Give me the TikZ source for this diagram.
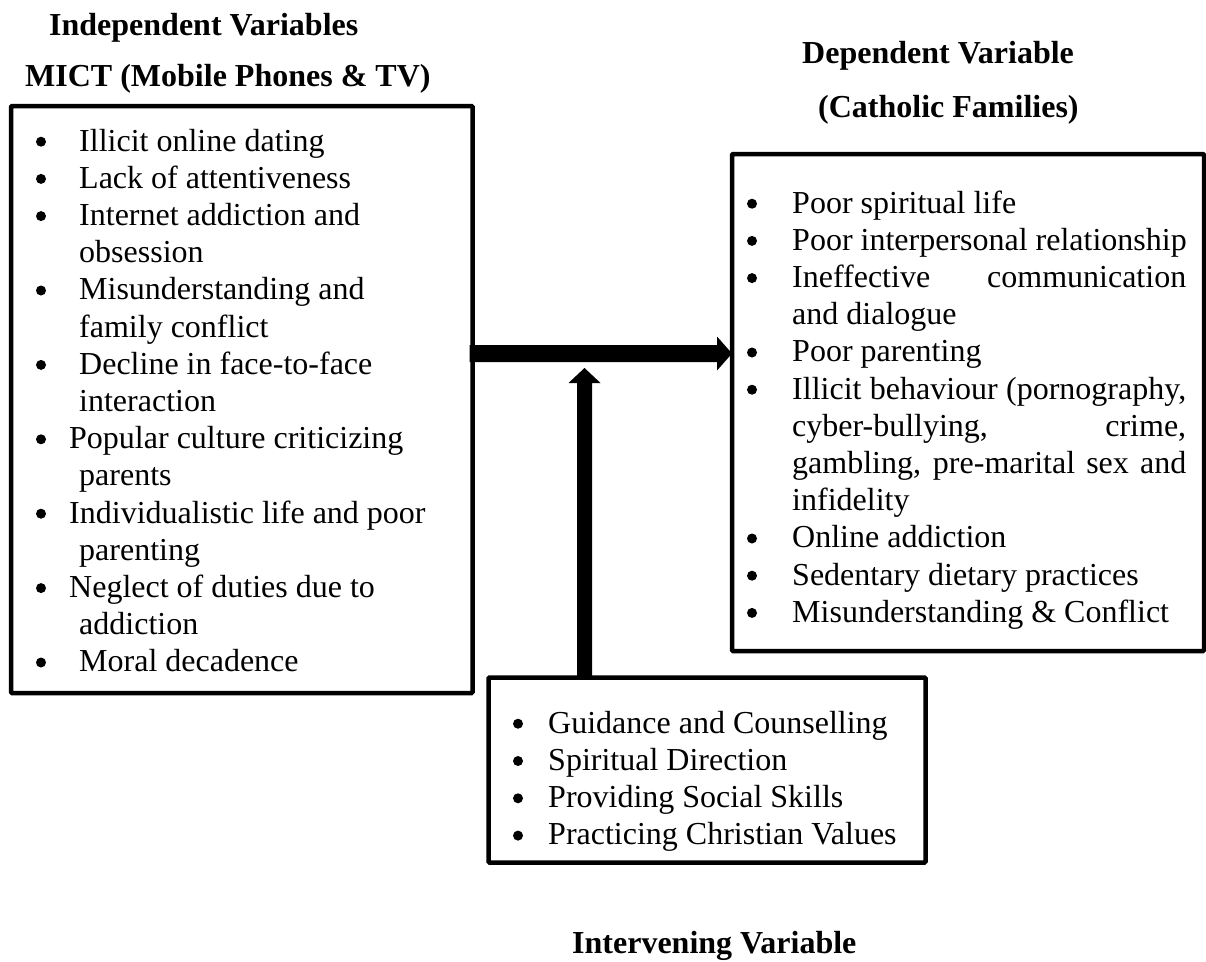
\documentclass[tikz,border=0pt]{standalone}
\usepackage{fontspec}
\setmainfont{Liberation Serif}
\usetikzlibrary{calc}
\begin{document}
\begin{tikzpicture}[x=1pt,y=-1pt,
  box/.style={draw, line width=4.5pt, rounded corners=1pt, inner sep=0pt, outer sep=0pt, anchor=north west},
  txt/.style={anchor=base west, inner sep=0pt, font=\fontsize{32}{37}\selectfont},
  head/.style={anchor=base west, inner sep=0pt, font=\fontsize{32}{37}\selectfont\bfseries},
  bul/.style={fill=black}]
\useasboundingbox (0,0) rectangle (1206,961);

% headings
\node[head] (h1) at (49,35) {Independent Variables};
\node[head] (h2) at (25,86) {MICT (Mobile Phones \& TV)};
\node[head] (h3) at (802,63) {Dependent Variable};
\node[head] (h4) at (818,117) {(Catholic Families)};
\node[head] (h5) at (572,953) {Intervening Variable};

% boxes
\node[box, minimum width=461.5pt, minimum height=587pt] (ind) at (11,106) {};
\node[box, minimum width=472pt, minimum height=497pt] (dep) at (732,154) {};
\node[box, minimum width=437pt, minimum height=185pt] (int) at (488.5,677.5) {};

% independent list
\foreach \y in {151,188.2,225.4,299.8,374.2,448.6,523,597.4,671.8}
  \fill[bul] (41,\y-9.3) circle (5);
\node[txt] (a1) at (79,151) {Illicit online dating};
\node[txt] (a2) at (79,188.2) {Lack of attentiveness};
\node[txt] (a3) at (79,225.4) {Internet addiction and};
\node[txt] (a4) at (79,262.6) {obsession};
\node[txt] (a5) at (79,299.8) {Misunderstanding and};
\node[txt] (a6) at (79,337) {family conflict};
\node[txt] (a7) at (79,374.2) {Decline in face-to-face};
\node[txt] (a8) at (79,411.4) {interaction};
\node[txt] (a9) at (69,448.6) {Popular culture criticizing};
\node[txt] (a10) at (79,485.8) {parents};
\node[txt] (a11) at (69,523) {Individualistic life and poor};
\node[txt] (a12) at (79,560.2) {parenting};
\node[txt] (a13) at (69,597.4) {Neglect of duties due to};
\node[txt] (a14) at (79,634.6) {addiction};
\node[txt] (a15) at (79,671.8) {Moral decadence};

% dependent list
\foreach \y in {213,250.2,287.4,361.8,399,547.8,585,622.2}
  \fill[bul] (752,\y-9.3) circle (5);
\node[txt] (b1) at (792,213) {Poor spiritual life};
\node[txt] (b2) at (792,250.2) {Poor interpersonal relationship};
\node[txt] (b3) at (792,287.4) {\makebox[394pt][s]{Ineffective communication}};
\node[txt] (b4) at (792,324.6) {and dialogue};
\node[txt] (b5) at (792,361.8) {Poor parenting};
\node[txt] (b6) at (792,399) {\makebox[394pt][s]{Illicit behaviour (pornography,}};
\node[txt] (b7) at (792,436.2) {\makebox[394pt][s]{cyber-bullying, crime,}};
\node[txt] (b8) at (792,473.4) {\makebox[394pt][s]{gambling, pre-marital sex and}};
\node[txt] (b9) at (792,510.6) {infidelity};
\node[txt] (b10) at (792,547.8) {Online addiction};
\node[txt] (b11) at (792,585) {Sedentary dietary practices};
\node[txt] (b12) at (792,622.2) {Misunderstanding \& Conflict};

% intervening list
\begin{scope}
\clip (480,670) rectangle (940,851.5);
\foreach \y in {733,770.3,807.6,844.9}
  \fill[bul] (518,\y-9.3) circle (5);
\node[txt] (c1) at (548,733) {Guidance and Counselling};
\node[txt] (c2) at (548,770.3) {Spiritual Direction};
\node[txt] (c3) at (548,807.6) {Providing Social Skills};
\node[txt] (c4) at (548,844.9) {Practicing Christian Values};
\end{scope}

% arrows
\coordinate (hy) at (0,353.5);
\coordinate (hs) at (ind.east |- hy);
\coordinate (he) at (dep.west |- hy);
\fill ($(hs)+(-3,-8.5)$) -- ($(he)+(-15,-8.5)$) -- ($(he)+(-15,-17)$) -- (he)
      -- ($(he)+(-15,17)$) -- ($(he)+(-15,8.5)$) -- ($(hs)+(-3,8.5)$) -- cycle;

\coordinate (vx) at (584.5,0);
\coordinate (vb) at (int.north -| vx);
\coordinate (vt) at (584.5,368);
\fill ($(vb)+(-7.5,0)$) -- ($(vt)+(-7.5,15)$) -- ($(vt)+(-16,15)$) -- (vt)
      -- ($(vt)+(16,15)$) -- ($(vt)+(7.5,15)$) -- ($(vb)+(7.5,0)$) -- cycle;
\end{tikzpicture}
\end{document}
